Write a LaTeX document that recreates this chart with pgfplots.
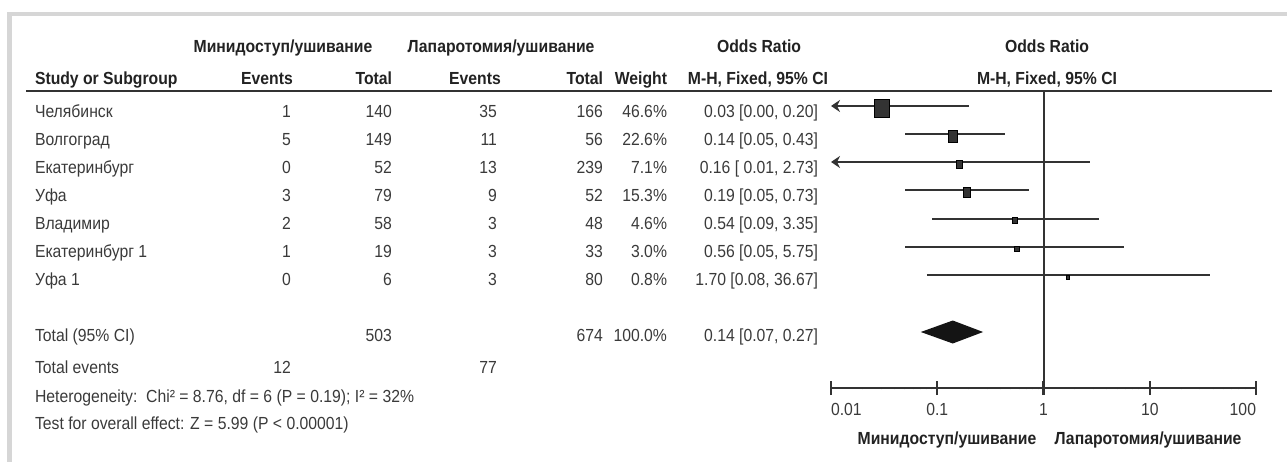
\documentclass[border=0pt]{standalone}
\usepackage{fontspec}
\setmainfont{Liberation Sans}[FakeStretch=0.9]
\usepackage{pgfplots}
\pgfplotsset{compat=1.18}
\usetikzlibrary{arrows.meta}
\definecolor{txt}{HTML}{3A3A3A}
\definecolor{hdr}{HTML}{222222}
\definecolor{ln}{HTML}{333333}
\definecolor{frame}{HTML}{D6D6D6}
\newcommand\fs{\fontsize{17.5}{20}\selectfont}
\begin{document}
\begin{tikzpicture}[x=1pt,y=1pt,font=\fs]
\path[use as bounding box] (0,0) rectangle (1287,-462);
\fill[frame] (7,-12) rectangle (1287,-16.5);
\fill[frame] (7,-12) rectangle (12,-462);
% header rule
\draw[ln, line width=2.6pt] (26,-91) -- (1272,-91);
\begin{scope}[every node/.style={inner sep=0pt, outer sep=0pt}]
% headers
\begin{scope}[every node/.append style={text=hdr, font=\fs\bfseries}]
\node[anchor=base] at (283,-53) {Минидоступ/ушивание};
\node[anchor=base] at (501,-53) {Лапаротомия/ушивание};
\node[anchor=base] at (759,-53) {Odds Ratio};
\node[anchor=base] at (1047,-53) {Odds Ratio};
\node[anchor=base west] at (35,-85) {Study or Subgroup};
\node[anchor=base] at (267,-85) {Events};
\node[anchor=base east] at (392,-85) {Total};
\node[anchor=base] at (475,-85) {Events};
\node[anchor=base east] at (603,-85) {Total};
\node[anchor=base east] at (667,-85) {Weight};
\node[anchor=base] at (758,-85) {M-H, Fixed, 95\% CI};
\node[anchor=base] at (1047,-85) {M-H, Fixed, 95\% CI};
\node[anchor=base] at (947,-444) {Минидоступ/ушивание};
\node[anchor=base] at (1148,-444) {Лапаротомия/ушивание};
\end{scope}
\begin{scope}[every node/.append style={text=txt}]
\foreach \b/\n/\ea/\ta/\eb/\tb/\w/\o in {
118/Челябинск/1/140/35/166/46.6/{0.03 [0.00, 0.20]},
146/Волгоград/5/149/11/56/22.6/{0.14 [0.05, 0.43]},
174/Екатеринбург/0/52/13/239/7.1/{0.16 [ 0.01, 2.73]},
202/Уфа/3/79/9/52/15.3/{0.19 [0.05, 0.73]},
230/Владимир/2/58/3/48/4.6/{0.54 [0.09, 3.35]},
258/Екатеринбург 1/1/19/3/33/3.0/{0.56 [0.05, 5.75]},
286/Уфа 1/0/6/3/80/0.8/{1.70 [0.08, 36.67]}}{
\node[anchor=base west] at (35,-\b) {\n};
\node[anchor=base east] at (291,-\b) {\ea};
\node[anchor=base east] at (392,-\b) {\ta};
\node[anchor=base east] at (497,-\b) {\eb};
\node[anchor=base east] at (603,-\b) {\tb};
\node[anchor=base east] at (667,-\b) {\w\%};
\node[anchor=base east] at (818,-\b) {\o};
}
\node[anchor=base west] at (35,-341) {Total (95\% CI)};
\node[anchor=base east] at (392,-341) {503};
\node[anchor=base east] at (603,-341) {674};
\node[anchor=base east] at (667,-341) {100.0\%};
\node[anchor=base east] at (818,-341) {0.14 [0.07, 0.27]};
\node[anchor=base west] at (35,-373) {Total events};
\node[anchor=base east] at (291,-373) {12};
\node[anchor=base east] at (497,-373) {77};
\node[anchor=base west] at (35,-402) {Heterogeneity:\ \ Chi² = 8.76, df = 6 (P = 0.19); I² = 32\%};
\node[anchor=base west] at (35,-429) {Test for overall effect: Z = 5.99 (P < 0.00001)};
\end{scope}
\end{scope}
\begin{axis}[
  at={(831pt,-388pt)}, anchor=south west,
  scale only axis, width=425pt, height=297pt,
  xmode=log, xmin=0.01, xmax=100, ymin=-388, ymax=-91,
  axis y line=none, axis x line=bottom,
  x axis line style={-, line width=2.5pt, color=ln},
  xtick={0.01,0.1,1,10,100}, xticklabels={\rlap{0.01},0.1,1,10,\llap{100}},
  minor xtick={},
  tick align=center, major tick length=14pt,
  xtick style={line width=2.2pt, color=ln},
  xticklabel style={font=\fs, text=txt, yshift=-5pt},
  /pgf/number format/assume math mode=true,
  clip=false,
]
\addplot[ln, line width=2pt] coordinates {(1,-388) (1,-91)};
% confidence intervals
\addplot[ln, line width=2.3pt, {Stealth[length=9pt,width=12pt]}-] coordinates {(0.01,-106) (0.20,-106)};
\addplot[ln, line width=2.3pt] coordinates {(0.05,-134) (0.43,-134)};
\addplot[ln, line width=2.3pt, {Stealth[length=9pt,width=12pt]}-] coordinates {(0.01,-162) (2.73,-162)};
\addplot[ln, line width=2.3pt] coordinates {(0.05,-190) (0.73,-190)};
\addplot[ln, line width=2.3pt] coordinates {(0.09,-219) (3.35,-219)};
\addplot[ln, line width=2.3pt] coordinates {(0.05,-247) (5.75,-247)};
\addplot[ln, line width=2.3pt] coordinates {(0.08,-275) (36.67,-275)};
% weighted squares
\addplot[only marks, mark=square*, mark size=7.5pt, mark options={fill=ln, draw=none, yscale=1.2}] coordinates {(0.03,-108)};
\addplot[only marks, mark=square*, mark size=4.6pt, mark options={fill=ln, draw=none, yscale=1.25}] coordinates {(0.14,-136)};
\addplot[only marks, mark=square*, mark size=3.2pt, mark options={fill=ln, draw=none, yscale=1.2}] coordinates {(0.16,-164)};
\addplot[only marks, mark=square*, mark size=3.8pt, mark options={fill=ln, draw=none, yscale=1.25}] coordinates {(0.19,-192)};
\addplot[only marks, mark=square*, mark size=2.6pt, mark options={fill=ln, draw=none, yscale=1.2}] coordinates {(0.54,-220)};
\addplot[only marks, mark=square*, mark size=2.1pt, mark options={fill=ln, draw=none, yscale=1.2}] coordinates {(0.56,-249)};
\addplot[only marks, mark=square*, mark size=1.6pt, mark options={fill=ln, draw=none, yscale=1.3}] coordinates {(1.70,-277)};
% pooled diamond
\addplot[fill=black!92, draw=none] coordinates {(0.07,-332) (0.14,-320.5) (0.27,-332) (0.14,-343.5)} -- cycle;
\end{axis}
\end{tikzpicture}
\end{document}
